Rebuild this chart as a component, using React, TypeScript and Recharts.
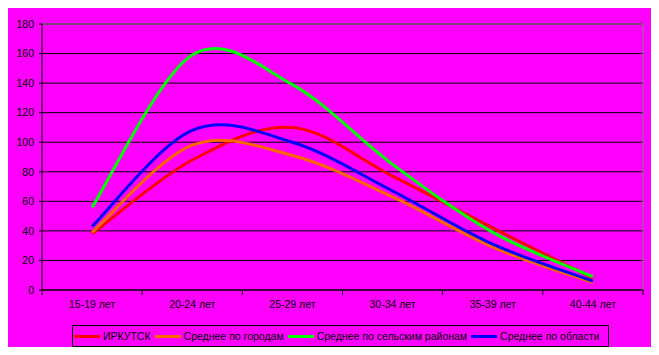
import { LineChart, Line, XAxis, YAxis, CartesianGrid, ReferenceLine } from 'recharts';

const categories = ['15-19 лет', '20-24 лет', '25-29 лет', '30-34 лет', '35-39 лет', '40-44 лет'];
const irkutsk = [38, 88, 110, 77, 42, 8];
const cities = [39, 98, 91, 63, 29, 5];
const rural = [56, 159, 139, 85, 39, 9];
const region = [43, 108, 100, 67, 31, 6];
const yTicks = [0, 20, 40, 60, 80, 100, 120, 140, 160, 180];

const series = [
  { key: 'irkutsk', name: 'ИРКУТСК', color: '#FF0000', values: irkutsk },
  { key: 'cities', name: 'Среднее по городам', color: '#FF6600', values: cities },
  { key: 'rural', name: 'Среднее по сельским районам', color: '#00FF00', values: rural },
  { key: 'region', name: 'Среднее по области', color: '#0000FF', values: region },
];

const data = categories.map((c, i) => ({
  x: i + 0.5,
  label: c,
  irkutsk: irkutsk[i],
  cities: cities[i],
  rural: rural[i],
  region: region[i],
}));

// ticks: integers are the category borders (tick marks), halves are the labels
const xTicks: number[] = [];
for (let i = 0; i <= categories.length; i++) {
  xTicks.push(i);
  if (i < categories.length) xTicks.push(i + 0.5);
}

const FONT = '"Liberation Sans", Arial, sans-serif';

// excel-like smoothed line (catmull-rom as bezier)
const excelCurve = (ctx: any) => {
  let xs: number[] = [];
  let ys: number[] = [];
  return {
    areaStart() {},
    areaEnd() {},
    lineStart() {
      xs = [];
      ys = [];
    },
    lineEnd() {
      const n = xs.length;
      if (!n) return;
      ctx.moveTo(xs[0], ys[0]);
      for (let i = 0; i < n - 1; i++) {
        const a = Math.max(i - 1, 0);
        const b = Math.min(i + 2, n - 1);
        ctx.bezierCurveTo(
          xs[i] + (xs[i + 1] - xs[a]) / 6,
          ys[i] + (ys[i + 1] - ys[a]) / 6,
          xs[i + 1] - (xs[b] - xs[i]) / 6,
          ys[i + 1] - (ys[b] - ys[i]) / 6,
          xs[i + 1],
          ys[i + 1],
        );
      }
    },
    point(x: number, y: number) {
      xs.push(+x);
      ys.push(+y);
    },
  };
};

function XTick(props: any) {
  const { x, y, payload } = props;
  const v = payload.value;
  if (Number.isInteger(v)) {
    return <line x1={x} x2={x} y1={y - 5} y2={y} stroke="#000" />;
  }
  const idx = Math.floor(v);
  return (
    <text x={x} y={y + 13} textAnchor="middle" fontSize={10.5} fontFamily={FONT} fill="#000">
      {categories[idx]}
    </text>
  );
}

export default function App() {
  return (
    <div style={{ position: 'relative', width: 659, height: 355, background: '#FF00FF', margin: -8 }}>
      <LineChart width={659} height={355} data={data} margin={{ top: 24, right: 16, left: 0, bottom: 35 }}>
        <CartesianGrid vertical={false} stroke="#000" strokeOpacity={1} />
        <CartesianGrid
          horizontal={false}
          stroke="#808080"
          verticalCoordinatesGenerator={({ offset }: any) => [offset.left + offset.width]}
        />
        <ReferenceLine y={180} stroke="#808080" />
        <XAxis
          dataKey="x"
          type="number"
          domain={[0, categories.length]}
          ticks={xTicks}
          interval={0}
          height={30}
          axisLine={{ stroke: '#000' }}
          tickLine={{ stroke: 'none' }}
          tickSize={5}
          tickMargin={0}
          tick={<XTick />}
        />
        <YAxis
          domain={[0, 180]}
          ticks={yTicks}
          interval={0}
          width={42}
          axisLine={{ stroke: '#000' }}
          tickLine={{ stroke: '#000' }}
          tickSize={3}
          tickMargin={5}
          tick={{ fontSize: 10.5, fontFamily: FONT, fill: '#000' }}
        />
        {series.map((s) => (
          <Line
            key={s.key}
            dataKey={s.key}
            name={s.name}
            type={excelCurve as any}
            stroke={s.color}
            strokeWidth={3}
            dot={false}
            activeDot={false}
            isAnimationActive={false}
          />
        ))}
      </LineChart>
      <div
        style={{
          position: 'absolute',
          left: 72,
          top: 325,
          width: 537,
          height: 22,
          boxSizing: 'border-box',
          border: '1px solid #000',
          display: 'flex',
          alignItems: 'center',
          paddingLeft: 1,
          fontFamily: FONT,
          fontSize: 10.5,
          color: '#000',
          whiteSpace: 'nowrap',
        }}
      >
        {series.map((s) => (
          <div key={s.key} style={{ display: 'flex', alignItems: 'center', marginRight: 4 }}>
            <span style={{ display: 'inline-block', width: 26, height: 3, background: s.color, marginRight: 3 }} />
            <span>{s.name}</span>
          </div>
        ))}
      </div>
    </div>
  );
}
